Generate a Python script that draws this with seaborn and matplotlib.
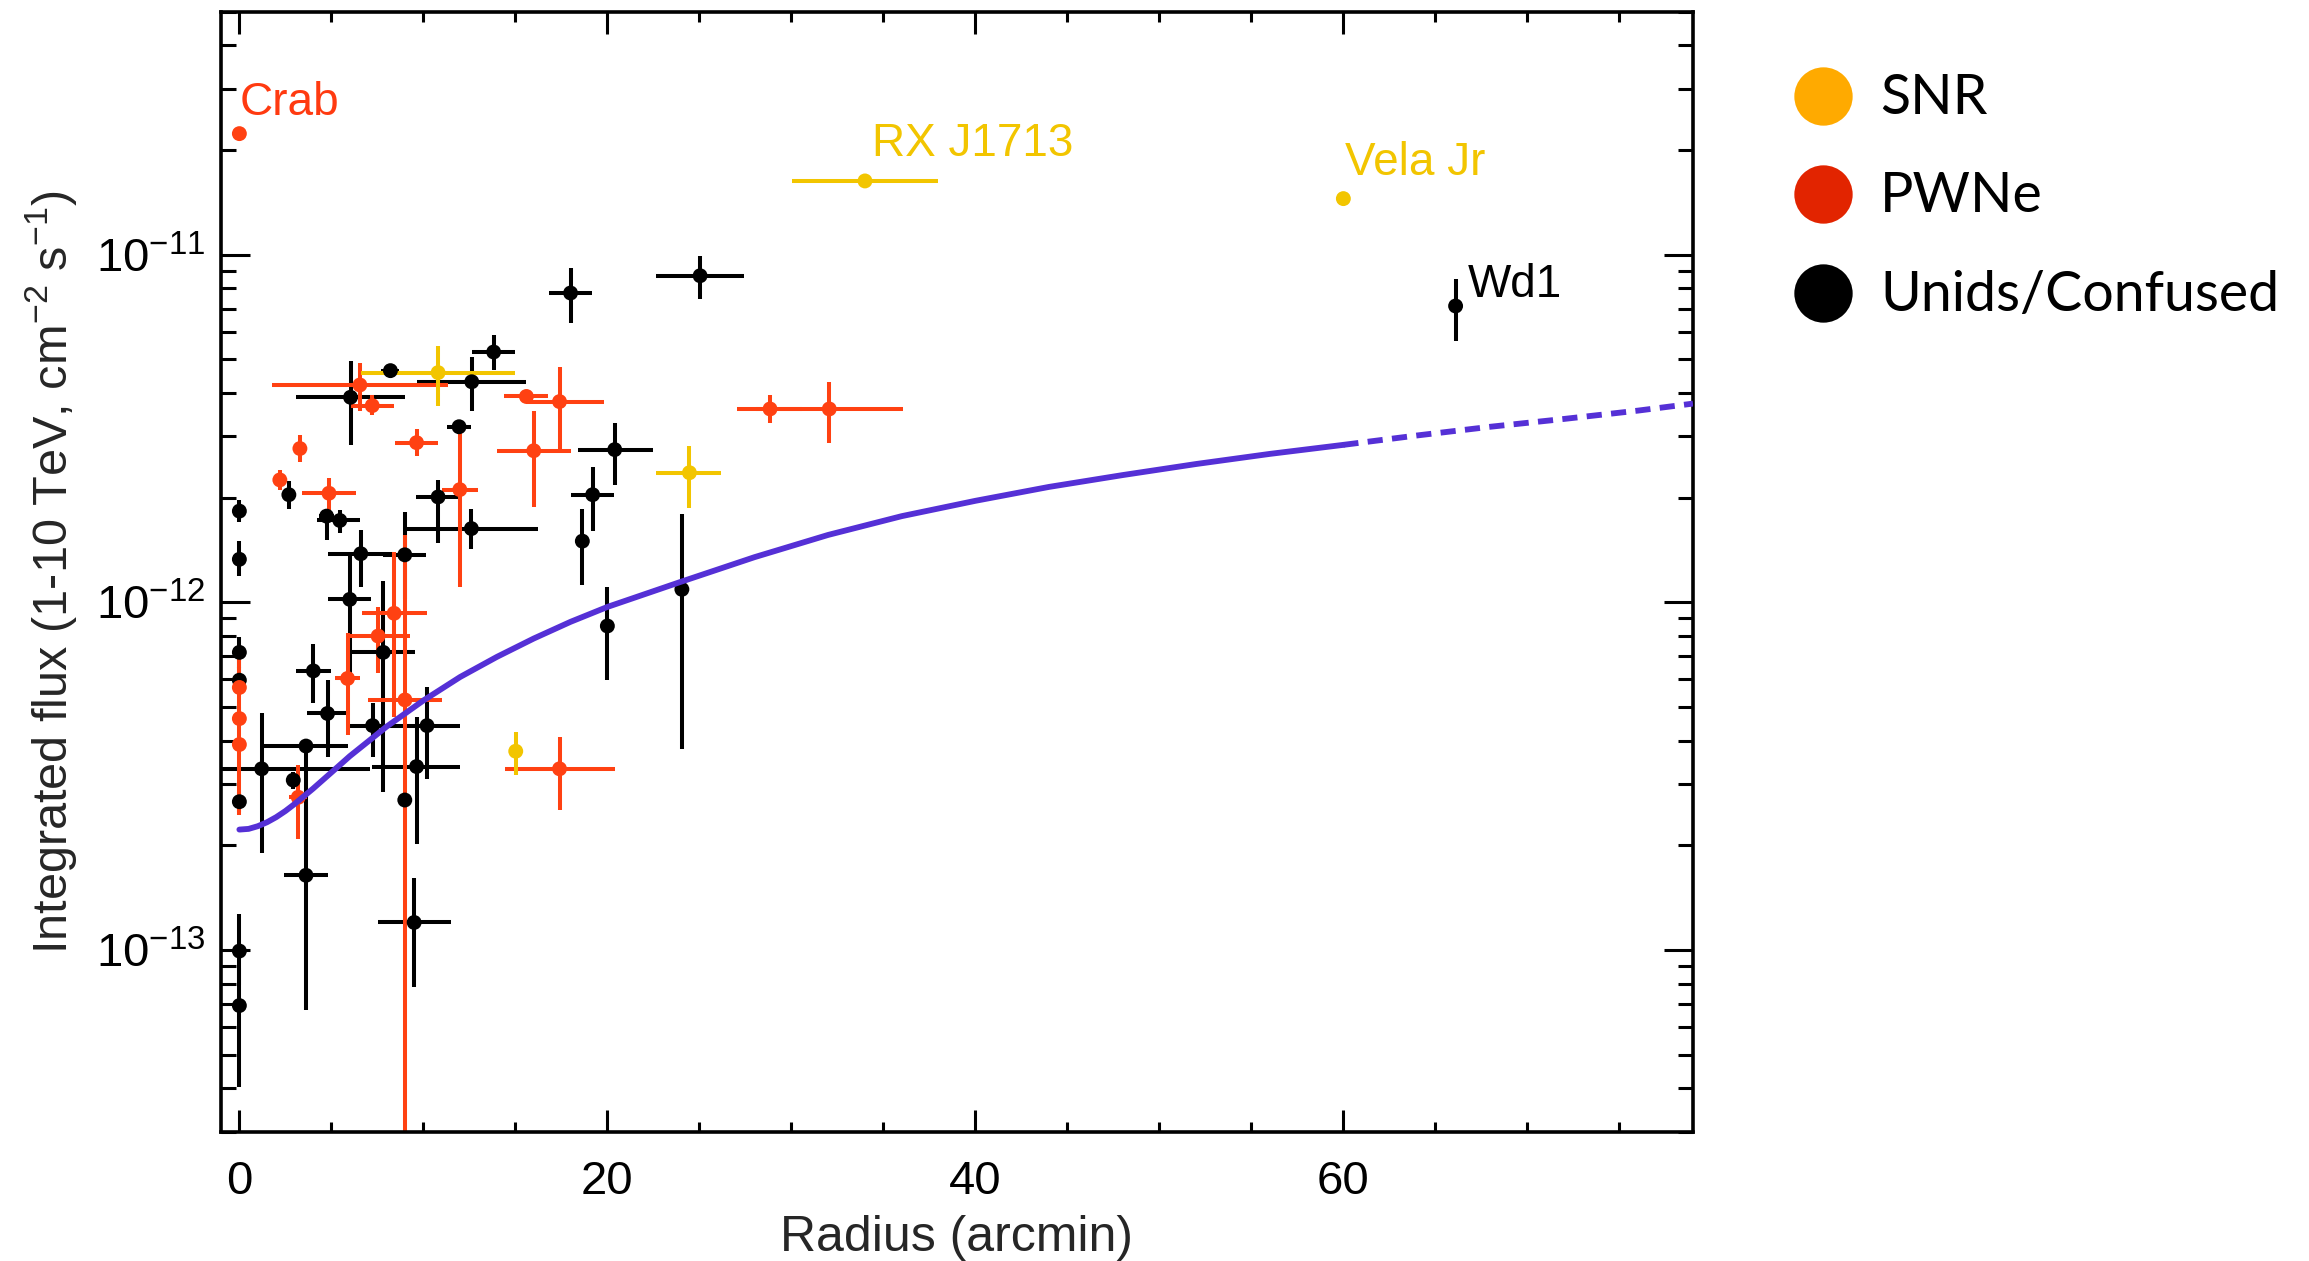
import numpy as np
import pandas as pd
import matplotlib
matplotlib.use("Agg")
import matplotlib.pyplot as plt
from matplotlib.ticker import MultipleLocator, LogLocator, NullFormatter, FixedLocator
from matplotlib.lines import Line2D
import seaborn as sns

# ---------------- data ----------------
# Supernova remnants
snr_name = ["RX J1713", "Vela Jr", "", "", ""]
snr_r = [34.0, 60.0, 10.8, 24.46, 15.02]
snr_flux = [1.63e-11, 1.45e-11, 4.58e-12, 2.36e-12, 3.73e-13]
snr_r_lo = [30.05, 60.0, 6.6, 22.65, 15.02]
snr_r_hi = [37.95, 60.0, 15.0, 26.2, 15.02]
snr_f_lo = [1.63e-11, 1.45e-11, 3.67e-12, 1.87e-12, 3.18e-13]
snr_f_hi = [1.63e-11, 1.45e-11, 5.45e-12, 2.81e-12, 4.24e-13]

# Pulsar wind nebulae
pwn_name = ["Crab"] + [""] * 21
pwn_r = [0.0, 6.55, 7.22, 15.6, 17.4, 9.63, 16.0, 3.29, 2.2, 4.87, 11.98,
         28.84, 32.06, 8.41, 7.54, 5.88, 9.0, 0.0, 0.0, 0.0, 3.2, 17.4]
pwn_flux = [2.23e-11, 4.22e-12, 3.68e-12, 3.91e-12, 3.78e-12, 2.88e-12, 2.73e-12,
            2.77e-12, 2.25e-12, 2.06e-12, 2.11e-12, 3.6e-12, 3.6e-12, 9.3e-13,
            8.0e-13, 6.04e-13, 5.24e-13, 5.69e-13, 4.63e-13, 3.90e-13, 2.75e-13, 3.32e-13]
pwn_r_lo = [0.0, 1.79, 6.04, 14.4, 15.6, 8.45, 14.0, 3.0, 1.9, 3.4, 11.0,
            27.05, 28.08, 6.64, 5.77, 5.18, 7.0, 0.0, 0.0, 0.0, 2.7, 14.42]
pwn_r_hi = [0.0, 11.35, 8.40, 16.8, 19.8, 10.8, 18.0, 3.6, 2.5, 6.35, 12.95,
            30.6, 36.05, 10.2, 9.26, 6.58, 11.0, 0.0, 0.0, 0.0, 3.7, 20.4]
pwn_f_lo = [2.23e-11, 3.54e-12, 3.45e-12, 3.75e-12, 2.77e-12, 2.64e-12, 1.88e-12,
            2.53e-12, 2.10e-12, 1.78e-12, 1.11e-12, 3.27e-12, 2.88e-12, 4.69e-13,
            6.25e-13, 4.15e-13, 1.0e-14, 4.68e-13, 4.30e-13, 2.44e-13, 2.09e-13, 2.52e-13]
pwn_f_hi = [2.23e-11, 4.88e-12, 3.95e-12, 4.05e-12, 4.76e-12, 3.15e-12, 3.56e-12,
            3.03e-12, 2.40e-12, 2.28e-12, 3.21e-12, 3.96e-12, 4.29e-12, 1.40e-12,
            9.70e-13, 8.15e-13, 1.56e-12, 7.05e-13, 5.00e-13, 4.30e-13, 3.40e-13, 4.10e-13]

# Unidentified / confused sources
unid_name = ["Wd1"] + [""] * 39
unid_r = [66.1, 25.04, 18.0, 13.82, 8.21, 12.63, 6.04, 11.94, 20.4, 19.2,
          10.8, 2.69, 0.0, 0.0, 4.74, 5.46, 6.6, 8.99, 12.61, 18.64,
          6.0, 7.82, 0.0, 0.0, 4.02, 4.79, 3.62, 1.21, 9.63, 2.93,
          7.24, 10.2, 20.0, 24.05, 0.0, 3.62, 9.5, 0.0, 0.0, 8.99]
unid_flux = [7.12e-12, 8.7e-12, 7.76e-12, 5.25e-12, 4.64e-12, 4.31e-12, 3.89e-12, 3.2e-12, 2.75e-12, 2.04e-12,
             2.01e-12, 2.04e-12, 1.83e-12, 1.33e-12, 1.77e-12, 1.72e-12, 1.38e-12, 1.37e-12, 1.63e-12, 1.50e-12,
             1.02e-12, 7.18e-13, 7.18e-13, 5.97e-13, 6.35e-13, 4.79e-13, 3.86e-13, 3.32e-13, 3.37e-13, 3.08e-13,
             4.42e-13, 4.42e-13, 8.55e-13, 1.09e-12, 2.67e-13, 1.64e-13, 1.20e-13, 9.93e-14, 6.92e-14, 2.70e-13]
unid_r_lo = [66.1, 22.65, 16.82, 12.64, 7.7, 9.68, 3.07, 11.3, 18.4, 18.02,
             9.62, 2.3, 0.0, 0.0, 4.35, 4.2, 4.83, 7.81, 8.99, 18.64,
             4.83, 6.0, 0.0, 0.0, 3.07, 3.66, 1.21, -4.7, 7.2, 2.6,
             6.0, 8.5, 20.0, 24.05, 0.0, 2.44, 7.51, 0.0, 0.0, 8.6]
unid_r_hi = [66.1, 27.4, 19.18, 15.0, 8.7, 15.6, 9.0, 12.6, 22.5, 20.38,
             11.98, 3.1, 0.0, 0.0, 5.15, 6.55, 8.4, 10.17, 16.23, 18.64,
             7.18, 9.57, 0.0, 0.0, 4.97, 5.92, 5.92, 7.1, 12.0, 3.3,
             8.5, 11.98, 20.0, 24.05, 0.0, 4.8, 11.49, 0.0, 0.0, 9.4]
unid_f_lo = [5.64e-12, 7.45e-12, 6.38e-12, 4.67e-12, 4.45e-12, 3.54e-12, 2.84e-12, 3.05e-12, 2.18e-12, 1.60e-12,
             1.48e-12, 1.86e-12, 1.70e-12, 1.19e-12, 1.51e-12, 1.58e-12, 1.11e-12, 1.02e-12, 1.42e-12, 1.12e-12,
             5.90e-13, 2.85e-13, 6.46e-13, 5.50e-13, 5.12e-13, 3.58e-13, 1.94e-13, 1.90e-13, 2.02e-13, 2.90e-13,
             3.60e-13, 3.11e-13, 5.97e-13, 3.79e-13, 2.50e-13, 6.70e-14, 7.82e-14, 7.94e-14, 4.04e-14, 2.55e-13]
unid_f_hi = [8.49e-12, 9.93e-12, 9.16e-12, 5.89e-12, 4.85e-12, 5.09e-12, 4.93e-12, 3.35e-12, 3.29e-12, 2.45e-12,
             2.25e-12, 2.24e-12, 1.97e-12, 1.50e-12, 1.85e-12, 1.84e-12, 1.62e-12, 1.82e-12, 1.85e-12, 1.85e-12,
             1.37e-12, 1.15e-12, 7.94e-13, 6.50e-13, 7.59e-13, 5.97e-13, 3.98e-13, 4.79e-13, 4.69e-13, 3.25e-13,
             5.13e-13, 5.71e-13, 1.11e-12, 1.80e-12, 2.85e-13, 2.58e-13, 1.61e-13, 1.27e-13, 8.90e-14, 2.85e-13]

# Sensitivity curve (solid part) and its extrapolation (dashed part)
curve_r = [0, 0.5, 1, 1.5, 2, 2.5, 3, 4, 5, 6, 7, 8, 10, 12, 14, 16, 18, 20,
           24, 28, 32, 36, 40, 44, 48, 52, 56, 60]
curve_flux = [2.22e-13, 2.23e-13, 2.27e-13, 2.33e-13, 2.41e-13, 2.51e-13, 2.63e-13,
              2.91e-13, 3.24e-13, 3.61e-13, 3.98e-13, 4.39e-13, 5.22e-13, 6.10e-13,
              6.97e-13, 7.87e-13, 8.79e-13, 9.70e-13, 1.146e-12, 1.349e-12, 1.563e-12,
              1.770e-12, 1.959e-12, 2.148e-12, 2.323e-12, 2.500e-12, 2.673e-12, 2.838e-12]
curve_ext_r = [60, 64, 68, 72, 76, 79]
curve_ext_flux = [2.838e-12, 3.02e-12, 3.20e-12, 3.37e-12, 3.56e-12, 3.73e-12]

class_labels = ["SNR", "PWNe", "Unids/Confused"]
point_colors = {"SNR": "#F2C500", "PWNe": "#FF4112", "Unids/Confused": "#000000"}
legend_colors = ["#FFAA00", "#E22400", "#000000"]

# ---------------- table ----------------
frames = []
for label, name, r, f, rlo, rhi, flo, fhi in [
        ("Unids/Confused", unid_name, unid_r, unid_flux, unid_r_lo, unid_r_hi, unid_f_lo, unid_f_hi),
        ("PWNe", pwn_name, pwn_r, pwn_flux, pwn_r_lo, pwn_r_hi, pwn_f_lo, pwn_f_hi),
        ("SNR", snr_name, snr_r, snr_flux, snr_r_lo, snr_r_hi, snr_f_lo, snr_f_hi)]:
    frames.append(pd.DataFrame({"type": label, "name": name, "radius": r, "flux": f,
                                "r_lo": rlo, "r_hi": rhi, "f_lo": flo, "f_hi": fhi}))
df = pd.concat(frames, ignore_index=True)
curve = pd.DataFrame({"radius": curve_r, "flux": curve_flux})
curve_ext = pd.DataFrame({"radius": curve_ext_r, "flux": curve_ext_flux})

# ---------------- style ----------------
sns.set_theme(style="ticks")
plt.rcParams["font.family"] = ["Liberation Sans", "DejaVu Sans"]
plt.rcParams["mathtext.fontset"] = "custom"
plt.rcParams["mathtext.rm"] = "Liberation Sans"
plt.rcParams["mathtext.it"] = "Liberation Sans:italic"
plt.rcParams["mathtext.bf"] = "Liberation Sans:bold"

W, H = 2309, 1261
fig = plt.figure(figsize=(W / 100, H / 100), dpi=100)
ax = fig.add_axes([0.0957, 0.1025, 0.6375, 0.8882])

# error bars
for label in ["Unids/Confused", "PWNe", "SNR"]:
    sub = df[df["type"] == label]
    xerr = np.vstack([sub["radius"] - sub["r_lo"], sub["r_hi"] - sub["radius"]])
    yerr = np.vstack([sub["flux"] - sub["f_lo"], sub["f_hi"] - sub["flux"]])
    ax.errorbar(sub["radius"], sub["flux"], xerr=xerr, yerr=yerr, fmt="none",
                ecolor=point_colors[label], elinewidth=2.9, capsize=0, zorder=2)

# points
sns.scatterplot(data=df, x="radius", y="flux", hue="type", palette=point_colors,
                hue_order=["Unids/Confused", "PWNe", "SNR"], s=115, linewidth=0,
                legend=False, ax=ax, zorder=3)

# sensitivity curve
sns.lineplot(data=curve, x="radius", y="flux", color="#5530D6", linewidth=4.2,
             ax=ax, zorder=4)
sns.lineplot(data=curve_ext, x="radius", y="flux", color="#5530D6", linewidth=4.2,
             ax=ax, zorder=4)
ax.lines[-1].set_dashes((2.6, 1.6))
ax.lines[-1].set_solid_capstyle("butt")

# source labels
label_style = {
    "Crab": dict(color="#FF3A10", offset=(0, 6)),
    "RX J1713": dict(color="#F2C500", offset=(5, 11)),
    "Vela Jr": dict(color="#F2C500", offset=(1, 10)),
    "Wd1": dict(color="#000000", offset=(9, -1)),
}
for _, row in df[df["name"] != ""].iterrows():
    st = label_style[row["name"]]
    ax.annotate(row["name"], (row["radius"], row["flux"]), xytext=st["offset"],
                textcoords="offset points", color=st["color"], fontsize=33,
                ha="left", va="bottom")

# axes
ax.set_yscale("log")
ax.set_xlim(-1, 79)
ax.set_ylim(3e-14, 5e-11)
ax.xaxis.set_major_locator(FixedLocator([0, 20, 40, 60]))
ax.xaxis.set_minor_locator(MultipleLocator(5))
ax.yaxis.set_major_locator(FixedLocator([1e-13, 1e-12, 1e-11]))
ax.yaxis.set_minor_locator(LogLocator(base=10, subs=np.arange(2, 10)))
ax.yaxis.set_minor_formatter(NullFormatter())
ax.tick_params(which="both", direction="in", top=True, right=True, colors="black")
ax.xaxis.set_tick_params(which="major", length=15.5, width=2.2, pad=20, labelsize=34)
ax.xaxis.set_tick_params(which="minor", length=7.5, width=2.2)
ax.yaxis.set_tick_params(which="major", length=21, width=2.2, pad=11, labelsize=34)
ax.yaxis.set_tick_params(which="minor", length=11, width=2.2)
for sp in ax.spines.values():
    sp.set_linewidth(2.6)
    sp.set_color("black")
ax.set_xlabel("Radius (arcmin)", fontsize=36, labelpad=8)
ax.set_ylabel(r"Integrated flux (1-10 TeV, cm$^{-2}$ s$^{-1}$)", fontsize=35, labelpad=12)

# class key, laid out in figure pixels
key = fig.add_axes([0, 0, 1, 1], zorder=-1)
key.set_axis_off()
key.set_xlim(0, W)
key.set_ylim(H, 0)
key_y = [96, 194, 293]
for lab, col, yy in zip(class_labels, legend_colors, key_y):
    key.add_line(Line2D([1823], [yy], marker="o", markersize=42, color=col,
                        markeredgewidth=0, linestyle="none"))
    key.text(1880, yy + 2, lab, fontsize=40, family=["Lato", "DejaVu Sans"],
             va="center", ha="left", color="black")

fig.savefig("out.png", dpi=100, facecolor="white")
